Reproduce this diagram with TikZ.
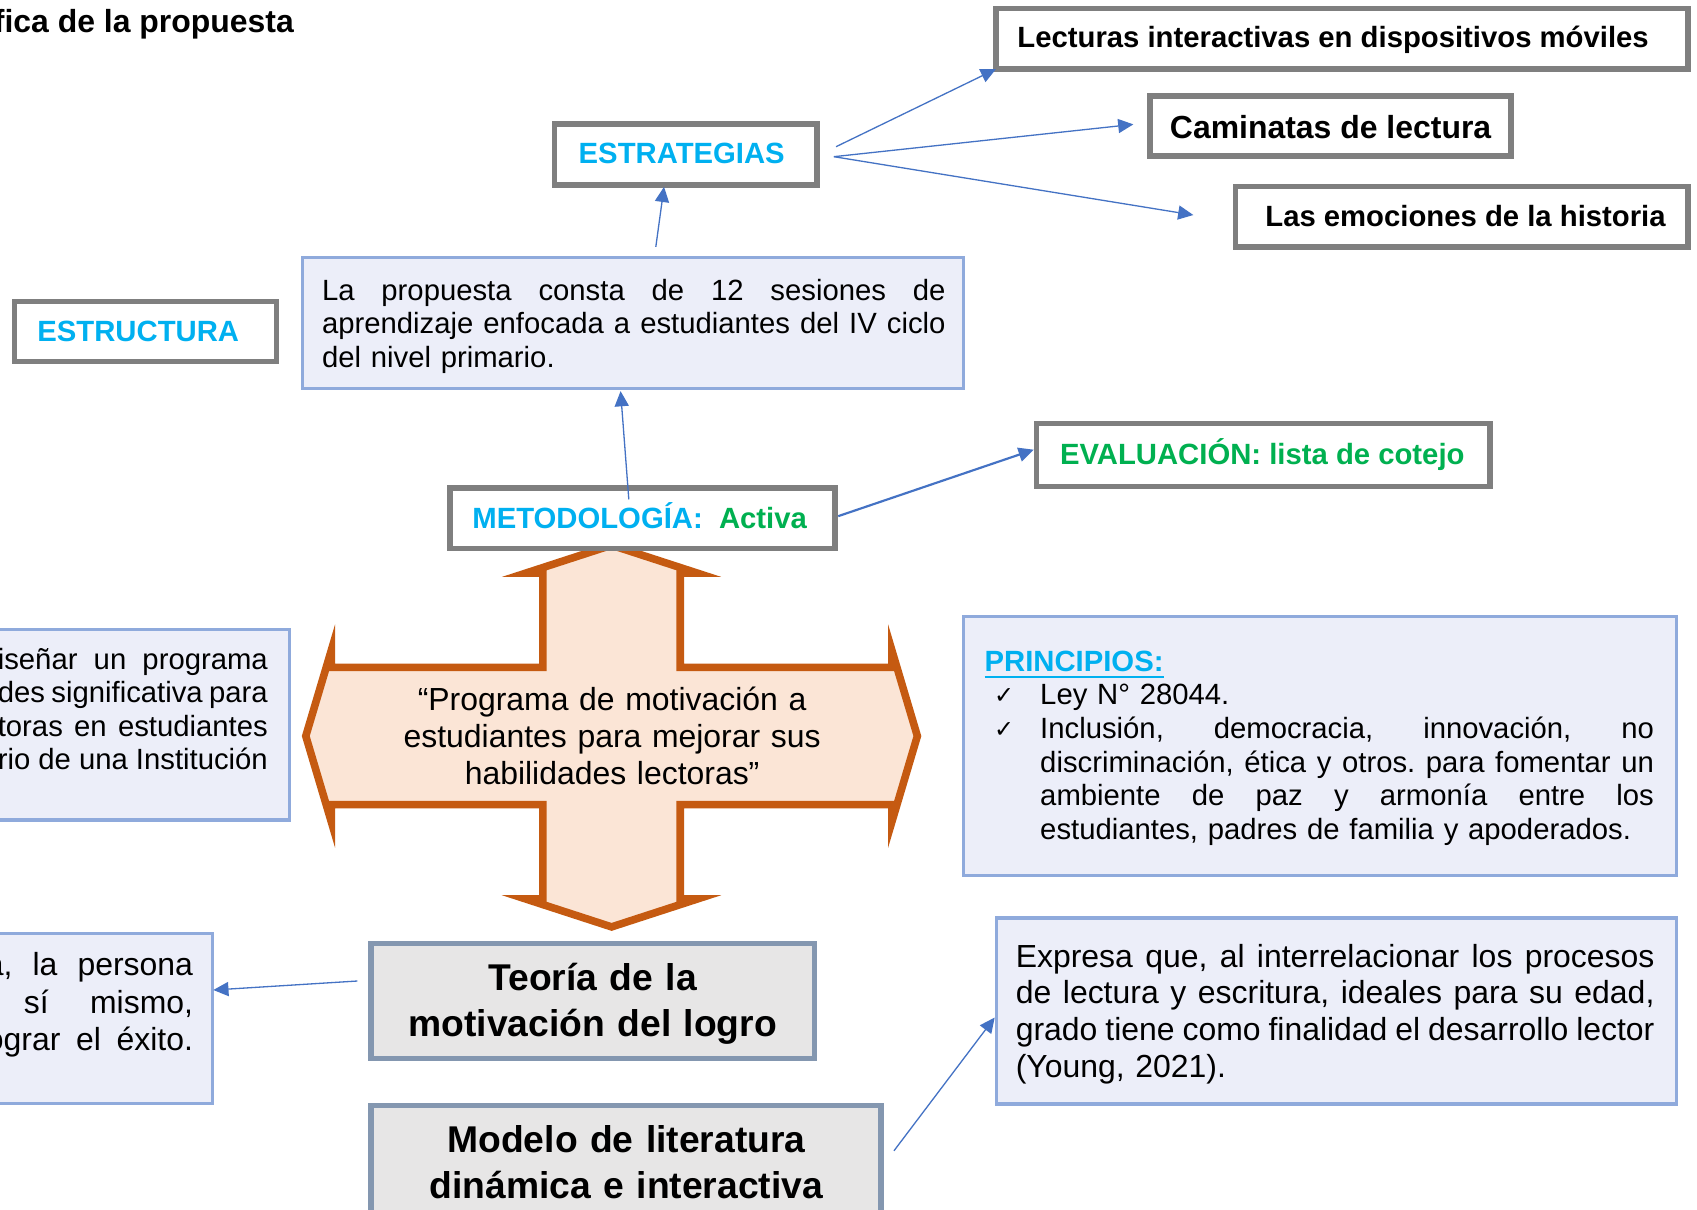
\documentclass[tikz,border=0pt]{standalone}
\usepackage{fontspec}
\setmainfont{Liberation Sans}
\newfontfamily\dejavu{DejaVu Sans}
\usetikzlibrary{arrows.meta,calc}

\definecolor{cyanT}{HTML}{00B0F0}
\definecolor{greenT}{HTML}{00B050}
\definecolor{grayB}{HTML}{7F7F7F}
\definecolor{blueB}{HTML}{8FAADC}
\definecolor{lav}{HTML}{ECEEF9}
\definecolor{slateB}{HTML}{8497B0}
\definecolor{grayF}{HTML}{E7E6E6}
\definecolor{orangeB}{HTML}{C55A11}
\definecolor{peach}{HTML}{FBE5D6}
\definecolor{connC}{HTML}{4472C4}

\newcommand\fA{\fontsize{27}{31}\selectfont}
\newcommand\fB{\fontsize{29.45}{33.85}\selectfont}
\newcommand\fBl{\fontsize{29.45}{34.5}\selectfont}
\newcommand\fC{\fontsize{34.36}{42.6}\selectfont}
\newdimen\jw
\newcommand\jl[1]{\makebox[\jw][s]{\frenchspacing\spaceskip=0.278em plus 1fil minus 0.1em\relax\strut #1}\par}

\begin{document}
\begin{tikzpicture}[x=1pt,y=-1pt,
  graybox/.style={draw=grayB,line width=5pt,fill=white,inner sep=0pt,outer sep=0pt},
  bluebox/.style={draw=blueB,line width=3pt,fill=lav,inner sep=0pt,outer sep=0pt},
  slatebox/.style={draw=slateB,line width=5pt,fill=grayF,inner sep=0pt,outer sep=0pt},
  lbl/.style={inner sep=0pt,outer sep=0pt},
  chk/.style={inner sep=0pt,outer sep=0pt,anchor=base,font=\dejavu\fontsize{22}{24}\selectfont},
  conn/.style={draw=connC,line width=1.2pt,-{Triangle[length=14pt,width=13pt]}},
  crossst/.style={draw=orangeB,fill=peach,line width=7pt,line join=miter,miter limit=12}]
\useasboundingbox (0,0) rectangle (1565,1115);
\fill[white] (0,0) rectangle (1565,1115);
\clip (0,0) rectangle (1565,1115);

% title
\node[lbl,anchor=base east,font=\fB\bfseries] (title) at (271,30) {fica de la propuesta};

% strategy boxes
\node[graybox,minimum width=638pt,minimum height=56pt] (lect) at (1237.5,35.7) {};
\node[lbl,anchor=base,font=\fA\bfseries] (lectT) at (1229.4,44.1) {Lecturas interactivas en dispositivos móviles};
\node[graybox,minimum width=333pt,minimum height=55.5pt] (cam) at (1227,116.2) {};
\node[lbl,anchor=base,font=\fB\bfseries] (camT) at (1227.1,127.8) {Caminatas de lectura};
\node[graybox,minimum width=417pt,minimum height=55.7pt] (emo) at (1348,199.8) {};
\node[lbl,anchor=base,font=\fA\bfseries] (emoT) at (1351.5,209) {Las emociones de la historia};

\node[graybox,minimum width=242pt,minimum height=56pt] (estr) at (632.5,142.5) {};
\node[lbl,anchor=base,font=\fA\bfseries,text=cyanT] (estrT) at (628.7,151.1) {ESTRATEGIAS};

\node[graybox,minimum width=241.4pt,minimum height=55.7pt] (estc) at (134.2,305.7) {};
\node[lbl,anchor=base,font=\fA\bfseries,text=cyanT] (estcT) at (127.5,314.8) {ESTRUCTURA};

\node[bluebox,minimum width=609.6pt,minimum height=121.2pt] (prop) at (583.7,297.9) {};
\node[lbl,anchor=north west,text width=575pt,font=\fA] (propT) at (297,255.3)
  {\jw=575pt\relax\jl{La propuesta consta de 12 sesiones de}\jl{aprendizaje enfocada a estudiantes del IV ciclo}\strut del nivel primario.};

% central cross arrow
\path[crossst] (564,502.8) -- (643,528.5) -- (627.3,528.5) -- (627.3,615.5) -- (822.5,615.5)
  -- (822.5,599.8) -- (846,678.8) -- (822.5,757.8) -- (822.5,742.1) -- (627.3,742.1)
  -- (627.3,829.1) -- (643,829.1) -- (564,854.8) -- (485,829.1) -- (500.7,829.1)
  -- (500.7,742.1) -- (305.5,742.1) -- (305.5,757.8) -- (282,678.8) -- (305.5,599.8)
  -- (305.5,615.5) -- (500.7,615.5) -- (500.7,528.5) -- (485,528.5) -- cycle;
\node[lbl,anchor=north,text width=420pt,align=center,font=\fB] (crossT) at (564.5,631.8)
  {\strut “Programa de motivación a\\estudiantes para mejorar sus\\habilidades lectoras”};

\node[graybox,minimum width=354.9pt,minimum height=55.7pt] (meto) at (592.4,478) {};
\node[lbl,anchor=base,font=\fA\bfseries,text=cyanT] (metoT) at (589.9,487.1) {METODOLOGÍA:~~\textcolor{greenT}{Activa}};

\node[graybox,minimum width=418.5pt,minimum height=57.8pt] (eval) at (1165,419.6) {};
\node[lbl,anchor=base,font=\fA\bfseries,text=greenT] (evalT) at (1164.1,428.1) {EVALUACIÓN: lista de cotejo};

% left boxes (cut by the page edge)
\node[bluebox,minimum width=286.8pt,minimum height=175.4pt] (left1) at (123.4,668.4) {};
\node[lbl,anchor=north west,text width=249pt,font=\fA] (left1T) at (-2,595.3)
  {\jw=249pt\relax\jl{iseñar un programa}\jl{des significativa para}\jl{toras en estudiantes}\jl{rio de una Institución}};

\node[bluebox,minimum width=216pt,minimum height=156.4pt] (left2) at (88,939.3) {};
\node[lbl,anchor=north west,text width=191pt,font=\fBl] (left2T) at (-13,875.85)
  {\jw=191pt\relax\jl{a, la persona}\hspace*{35pt}\makebox[156pt][s]{\frenchspacing\spaceskip=0.278em plus 1fil\relax\strut sí mismo,}\par\jl{ograr el éxito.}};

% theory boxes
\node[slatebox,minimum width=408.7pt,minimum height=106.1pt] (teo) at (546.65,923.35) {};
\node[lbl,anchor=north,text width=400pt,align=center,font=\fC\bfseries] (teoT) at (546.6,883.5)
  {\strut Teoría de la\\motivación del logro};
\node[slatebox,minimum width=470.2pt,minimum height=120.3pt] (mod) at (577.4,1079.9) {};
\node[lbl,anchor=north,text width=460pt,align=center,font=\fC\bfseries] (modT) at (577.7,1032.8)
  {\strut Modelo de literatura\\dinámica e interactiva};

% principles
\node[bluebox,minimum width=657.2pt,minimum height=238.7pt] (prin) at (1217.3,687.85) {};
\node[lbl,anchor=base west,font=\fA\bfseries,text=cyanT] (prinT) at (908,619.6) {PRINCIPIOS:};
\draw[draw=cyanT,line width=2.6pt] ($(prinT.base west)+(0,4.7)$) -- ($(prinT.base east)+(0,4.7)$);
\node[chk] (chk1) at (926,649) {✓};
\node[chk] (chk2) at (926,680) {✓};
\node[lbl,anchor=north west,text width=566pt,font=\fA] (prinL) at (959.3,628.3)
  {\jw=566pt\relax\strut Ley N° 28044.\par\jl{Inclusión, democracia, innovación, no}\jl{discriminación, ética y otros. para fomentar un}\jl{ambiente de paz y armonía entre los}\strut estudiantes, padres de familia y apoderados.};

% Young box
\node[bluebox,minimum width=627.1pt,minimum height=171.5pt] (expr) at (1232.35,932.45) {};
\node[lbl,anchor=north west,text width=589pt,font=\fB] (exprT) at (936.8,868.3)
  {\jw=589pt\relax\jl{Expresa que, al interrelacionar los procesos}\jl{de lectura y escritura, ideales para su edad,}\jl{grado tiene como finalidad el desarrollo lector}\strut(Young, 2021).};

% connectors
\draw[conn] ($(estr.east)+(17.5,-7.2)$) -- (lect.south west);
\draw[conn] ($(estr.east)+(15.5,2)$) -- ($(cam.west)+(-15.3,-1.5)$);
\draw[conn] ($(estr.east)+(15.5,2)$) -- ($(emo.west)+(-39,-1.5)$);
\draw[conn] ($(prop.north)+(21.1,-9.7)$) -- ($(estr.south)+(-20.1,1.8)$);
\draw[conn] ($(meto.north)+(-12.5,10.45)$) -- ($(prop.south)+(-11.4,2.2)$);
\draw[conn,line width=2pt] ($(meto.east)+(3.2,-2)$) -- ($(eval.west)+(-2.4,-4.9)$);
\draw[conn] ($(teo.west)+(-12.8,-18.65)$) -- ($(left2.east)+(0.7,-26.3)$);
\draw[conn] ($(mod.east)+(11.9,-18.6)$) -- ($(expr.west)+(-1.5,5.95)$);
\end{tikzpicture}
\end{document}
